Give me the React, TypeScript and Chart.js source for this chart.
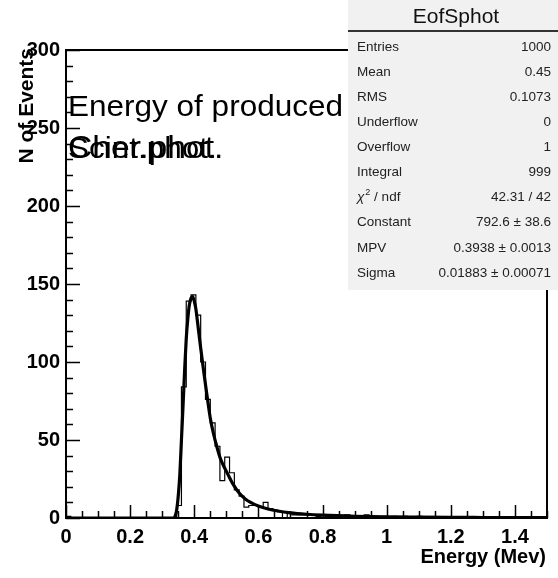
import React, { useEffect, useRef } from "react";
import { Chart, registerables } from "chart.js";

Chart.register(...registerables);

// ---- axis ranges / binning ----
const X_MIN = 0;
const X_MAX = 1.5;
const Y_MIN = 0;
const Y_MAX = 300;
const BIN_WIDTH = 0.015;

// ---- histogram counts (100 bins of 0.015 from 0 to 1.5) ----
const counts = [
  1, 0, 0, 0, 0, 0, 0, 0, 0, 0,
  0, 0, 0, 0, 0, 0, 0, 0, 0, 0,
  0, 0, 0, 8, 84, 139, 143, 130, 100, 76,
  61, 46, 24, 39, 29, 18, 14, 7, 8, 8,
  7, 10, 6, 5, 4, 0, 3, 2, 2, 2,
  2, 2, 1, 2, 1, 2, 1, 1, 2, 0,
  1, 1, 2, 0, 1, 0, 1, 0, 1, 0,
  1, 0, 0, 1, 0, 0, 0, 0, 0, 0,
  0, 0, 0, 0, 0, 0, 0, 0, 0, 0,
  0, 0, 0, 0, 0, 0, 0, 0, 0, 0,
];

// ---- Landau fit curve ----
const fitX = [
  0, 0.3, 0.335, 0.34, 0.345, 0.35, 0.355, 0.36, 0.365, 0.37, 0.375, 0.38,
  0.385, 0.39, 0.395, 0.4, 0.405, 0.41, 0.42, 0.43, 0.44, 0.45, 0.46, 0.47,
  0.48, 0.49, 0.5, 0.52, 0.54, 0.56, 0.58, 0.6, 0.63, 0.66, 0.7, 0.75, 0.8,
  0.9, 1.0, 1.1, 1.2, 1.3, 1.4, 1.5,
];
const fitY = [
  0, 0, 0, 1, 5, 14, 28, 50, 72, 95, 115, 128,
  137, 141, 142, 139, 134, 126, 109, 93, 78, 64, 54, 46,
  39, 34, 30, 22, 16, 12, 9.5, 7.7, 5.8, 4.5, 3.3, 2.4, 1.8,
  1.1, 0.75, 0.55, 0.4, 0.32, 0.26, 0.22,
];

// ---- texts ----
const titleLine1 = "Energy of produced";
const titleLine2a = "Scint.phot.";
const titleLine2b = "Cher.phot.";
const xTitle = "Energy (Mev)";
const yTitle = "N of Events";
const statsName = "EofSphot";
const statsLabels = [
  "Entries", "Mean", "RMS", "Underflow", "Overflow", "Integral",
  "CHI2", "Constant", "MPV", "Sigma",
];
const statsValues = [
  "1000", "0.45", "0.1073", "0", "1", "999",
  "42.31 / 42", "792.6 \u00b1 38.6", "0.3938 \u00b1 0.0013", "0.01883 \u00b1 0.00071",
];

const FONT = "'Liberation Sans', Arial, Helvetica, sans-serif";

function fmtTick(v: number): string {
  return String(parseFloat(Number(v).toFixed(2)));
}

const decorPlugin = {
  id: "rootDecor",
  beforeDraw(chart: any) {
    const ctx = chart.ctx;
    ctx.save();
    ctx.fillStyle = "#ffffff";
    ctx.fillRect(0, 0, chart.width, chart.height);
    ctx.restore();
  },
  afterDatasetsDraw(chart: any) {
    const ctx = chart.ctx as CanvasRenderingContext2D;
    const a = chart.chartArea;
    const xs = chart.scales.x;
    const ys = chart.scales.y;
    ctx.save();
    // frame
    ctx.strokeStyle = "#000";
    ctx.lineWidth = 2;
    ctx.strokeRect(a.left, a.top, a.right - a.left, a.bottom - a.top);
    // x ticks (inside)
    ctx.lineWidth = 1.5;
    ctx.beginPath();
    for (let i = 0; i <= 30; i++) {
      const v = X_MIN + i * 0.05;
      const px = Math.round(xs.getPixelForValue(v)) + 0.5;
      const len = i % 4 === 0 ? 13 : 7;
      ctx.moveTo(px, a.bottom);
      ctx.lineTo(px, a.bottom - len);
    }
    // y ticks (inside)
    for (let i = 0; i <= 30; i++) {
      const v = Y_MIN + i * 10;
      const py = Math.round(ys.getPixelForValue(v)) + 0.5;
      const len = i % 5 === 0 ? 14 : 7;
      ctx.moveTo(a.left, py);
      ctx.lineTo(a.left + len, py);
    }
    ctx.stroke();

    // main title (two overlapping lines)
    ctx.fillStyle = "#000";
    ctx.font = `29px ${FONT}`;
    ctx.textAlign = "left";
    ctx.textBaseline = "alphabetic";
    const w1 = ctx.measureText(titleLine1).width;
    const sx = 275 / w1;
    ctx.save();
    ctx.translate(68, 116);
    ctx.scale(sx, 1);
    ctx.fillText(titleLine1, 0, 0);
    ctx.restore();
    ctx.save();
    ctx.translate(68, 158);
    ctx.scale(sx, 1);
    ctx.fillText(titleLine2a, 0, 0);
    ctx.font = `31px ${FONT}`;
    ctx.fillText(titleLine2b, 0, 0);
    ctx.restore();

    // axis titles
    ctx.font = `bold 20px ${FONT}`;
    ctx.textAlign = "right";
    ctx.textBaseline = "middle";
    ctx.fillText(xTitle, 546, 557);

    ctx.save();
    ctx.translate(33, 48);
    ctx.rotate(-Math.PI / 2);
    ctx.font = `bold 21px ${FONT}`;
    ctx.textAlign = "right";
    ctx.textBaseline = "alphabetic";
    ctx.fillText(yTitle, 0, 0);
    ctx.restore();
    ctx.restore();
  },
  afterDraw(chart: any) {
    const ctx = chart.ctx as CanvasRenderingContext2D;
    ctx.save();
    const bx = 348, by = 0, bw = 558 - 348, bh = 290;
    ctx.fillStyle = "#f1f1f1";
    ctx.fillRect(bx, by, bw, bh);
    // title
    ctx.fillStyle = "#111";
    ctx.font = `21px ${FONT}`;
    ctx.textAlign = "center";
    ctx.textBaseline = "middle";
    ctx.fillText(statsName, bx + bw / 2 + 3, 17);
    ctx.strokeStyle = "#333";
    ctx.lineWidth = 2;
    ctx.beginPath();
    ctx.moveTo(bx, 31);
    ctx.lineTo(bx + bw, 31);
    ctx.stroke();
    // rows
    ctx.font = `13.5px ${FONT}`;
    ctx.fillStyle = "#222";
    for (let i = 0; i < statsLabels.length; i++) {
      const y = 47 + i * 25.1;
      ctx.textAlign = "left";
      const lab = statsLabels[i];
      if (lab === "CHI2") {
        ctx.font = `italic 13.5px ${FONT}`;
        ctx.fillText("\u03c7", 357, y);
        const wc = ctx.measureText("\u03c7").width;
        ctx.font = `9px ${FONT}`;
        ctx.fillText("2", 357 + wc + 1, y - 5);
        ctx.font = `13.5px ${FONT}`;
        ctx.fillText(" / ndf", 357 + wc + 6, y);
      } else {
        ctx.fillText(lab, 357, y);
      }
      ctx.textAlign = "right";
      ctx.fillText(statsValues[i], 551, y);
    }
    ctx.restore();
  },
};

export default function App() {
  const ref = useRef<HTMLCanvasElement | null>(null);
  useEffect(() => {
    if (!ref.current) return;
    const histData = counts.map((c, i) => ({ x: X_MIN + i * BIN_WIDTH, y: c }));
    histData.push({ x: X_MAX, y: counts[counts.length - 1] });
    const fitData = fitX.map((x, i) => ({ x, y: fitY[i] }));
    const chart = new Chart(ref.current, {
      type: "line",
      data: {
        datasets: [
          {
            label: "hist",
            data: histData,
            stepped: "before",
            borderColor: "#000",
            borderWidth: 1.2,
            pointRadius: 0,
            fill: false,
          } as any,
          {
            label: "fit",
            data: fitData,
            borderColor: "#000",
            borderWidth: 3.2,
            pointRadius: 0,
            cubicInterpolationMode: "monotone",
            fill: false,
          } as any,
        ],
      },
      options: {
        responsive: false,
        animation: false,
        devicePixelRatio: 1,
        parsing: false,
        layout: { padding: { top: 50, right: 11, left: 0, bottom: 0 } },
        plugins: {
          legend: { display: false },
          tooltip: { enabled: false },
          title: { display: false },
        },
        scales: {
          x: {
            type: "linear",
            min: X_MIN,
            max: X_MAX,
            grid: { display: false, drawTicks: false },
            border: { display: false },
            ticks: {
              stepSize: 0.2,
              includeBounds: false,
              autoSkip: false,
              maxRotation: 0,
              padding: 7,
              color: "#000",
              font: { family: FONT, size: 20, weight: "bold" },
              callback: (v: any) => fmtTick(v),
            },
            afterFit: (s: any) => {
              s.height = 60;
            },
          },
          y: {
            type: "linear",
            min: Y_MIN,
            max: Y_MAX,
            grid: { display: false, drawTicks: false },
            border: { display: false },
            ticks: {
              stepSize: 50,
              autoSkip: false,
              padding: 6,
              color: "#000",
              font: { family: FONT, size: 20, weight: "bold" },
              callback: (v: any) => fmtTick(v),
            },
            afterFit: (s: any) => {
              s.width = 66;
            },
          },
        },
      } as any,
      plugins: [decorPlugin],
    });
    return () => chart.destroy();
  }, []);
  return (
    <div style={{ position: "absolute", left: 0, top: 0, width: 558, height: 578 }}>
      <canvas ref={ref} width={558} height={578} style={{ display: "block" }} />
    </div>
  );
}
